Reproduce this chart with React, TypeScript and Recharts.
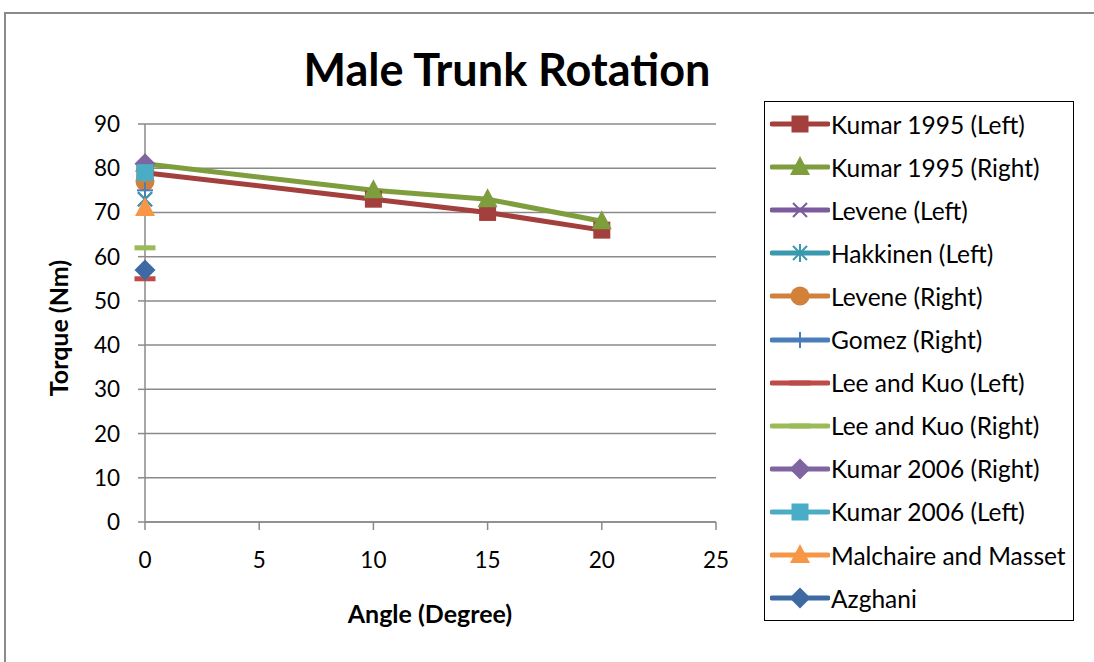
import { LineChart, Line, XAxis, YAxis, CartesianGrid, Label } from "recharts";

// angles (degrees) and torque values (Nm)
const kumarAngles = [0, 10, 15, 20];
const kumar1995Left = [79, 73, 70, 66];
const kumar1995Right = [81, 75, 73, 68];
const zeroAngle = [0];
const leveneLeft = [73];
const hakkinenLeft = [73];
const leveneRight = [77];
const gomezRight = [75];
const leeKuoLeft = [55];
const leeKuoRight = [62];
const kumar2006Right = [81];
const kumar2006Left = [79];
const malchaireMasset = [71];
const azghani = [57];

const xTicks = [0, 5, 10, 15, 20, 25];
const yTicks = [0, 10, 20, 30, 40, 50, 60, 70, 80, 90];

const FONT = "Lato, 'Open Sans', sans-serif";

type Shape = "square" | "triangle" | "x" | "asterisk" | "circle" | "plus" | "dash" | "diamond";

const series: { name: string; color: string; shape: Shape; xs: number[]; ys: number[] }[] = [
  { name: "Kumar 1995 (Left)", color: "#A33F3C", shape: "square", xs: kumarAngles, ys: kumar1995Left },
  { name: "Kumar 1995 (Right)", color: "#7E9D3D", shape: "triangle", xs: kumarAngles, ys: kumar1995Right },
  { name: "Levene (Left)", color: "#7A5C9E", shape: "x", xs: zeroAngle, ys: leveneLeft },
  { name: "Hakkinen (Left)", color: "#3A98AF", shape: "asterisk", xs: zeroAngle, ys: hakkinenLeft },
  { name: "Levene (Right)", color: "#D2803A", shape: "circle", xs: zeroAngle, ys: leveneRight },
  { name: "Gomez (Right)", color: "#4A7EBB", shape: "plus", xs: zeroAngle, ys: gomezRight },
  { name: "Lee and Kuo (Left)", color: "#BE4B48", shape: "dash", xs: zeroAngle, ys: leeKuoLeft },
  { name: "Lee and Kuo (Right)", color: "#9BBB59", shape: "dash", xs: zeroAngle, ys: leeKuoRight },
  { name: "Kumar 2006 (Right)", color: "#8064A2", shape: "diamond", xs: zeroAngle, ys: kumar2006Right },
  { name: "Kumar 2006 (Left)", color: "#4BACC6", shape: "square", xs: zeroAngle, ys: kumar2006Left },
  { name: "Malchaire and Masset", color: "#F79646", shape: "triangle", xs: zeroAngle, ys: malchaireMasset },
  { name: "Azghani", color: "#3E6AA3", shape: "diamond", xs: zeroAngle, ys: azghani },
];

const Marker = ({ shape, cx, cy, color }: { shape: Shape; cx: number; cy: number; color: string }) => {
  switch (shape) {
    case "square":
      return <rect x={cx - 8.5} y={cy - 8.5} width={17} height={17} fill={color} />;
    case "triangle":
      return <polygon points={`${cx},${cy - 11} ${cx + 10},${cy + 8} ${cx - 10},${cy + 8}`} fill={color} />;
    case "diamond":
      return <polygon points={`${cx},${cy - 10.5} ${cx + 10.5},${cy} ${cx},${cy + 10.5} ${cx - 10.5},${cy}`} fill={color} />;
    case "circle":
      return <circle cx={cx} cy={cy} r={9.5} fill={color} />;
    case "dash":
      return <rect x={cx - 10.5} y={cy - 2.5} width={21} height={5} fill={color} />;
    case "plus":
      return (
        <g stroke={color} strokeWidth={2}>
          <line x1={cx - 8} y1={cy} x2={cx + 8} y2={cy} />
          <line x1={cx} y1={cy - 8} x2={cx} y2={cy + 8} />
        </g>
      );
    case "x":
      return (
        <g stroke={color} strokeWidth={2}>
          <line x1={cx - 7} y1={cy - 7} x2={cx + 7} y2={cy + 7} />
          <line x1={cx - 7} y1={cy + 7} x2={cx + 7} y2={cy - 7} />
        </g>
      );
    case "asterisk":
      return (
        <g stroke={color} strokeWidth={2}>
          <line x1={cx - 7} y1={cy - 7} x2={cx + 7} y2={cy + 7} />
          <line x1={cx - 7} y1={cy + 7} x2={cx + 7} y2={cy - 7} />
          <line x1={cx} y1={cy - 9} x2={cx} y2={cy + 9} />
        </g>
      );
  }
  return null;
};

const Legend = () => (
  <div
    style={{
      position: "absolute",
      left: 764,
      top: 101,
      width: 308,
      height: 518,
      border: "1px solid #000",
      background: "#fff",
      fontFamily: FONT,
      fontSize: 24.5,
    }}
  >
    {series.map((s, i) => (
      <div key={s.name} style={{ position: "absolute", left: 5, top: 7 + i * 43.1, height: 30, display: "flex", alignItems: "center", whiteSpace: "nowrap" }}>
        <svg width={60} height={30}>
          <line x1={2} y1={15} x2={58} y2={15} stroke={s.color} strokeWidth={5} strokeLinecap="round" />
          <Marker shape={s.shape} cx={30} cy={15} color={s.color} />
        </svg>
        <span style={{ marginLeft: 1 }}>{s.name}</span>
      </div>
    ))}
  </div>
);

export default function App() {
  return (
    <div style={{ position: "absolute", left: 0, top: 0, width: 1094, height: 662, overflow: "hidden", background: "#fff" }}>
      <div style={{ position: "absolute", left: 4, top: 12, width: 1200, height: 800, border: "2px solid #8a8a8a" }} />
      <div
        style={{
          position: "absolute",
          left: 0,
          width: 1014,
          top: 44,
          textAlign: "center",
          fontFamily: FONT,
          fontWeight: 700,
          fontSize: 45,
          lineHeight: "50px",
        }}
      >
        Male Trunk Rotation
      </div>
      <div style={{ position: "absolute", left: 0, top: 0 }}>
        <LineChart width={1094} height={662} margin={{ top: 124, right: 378, bottom: 0, left: 0 }}>
          <CartesianGrid vertical={false} stroke="#8a8a8a" strokeWidth={1.5} />
          <XAxis
            dataKey="angle"
            type="number"
            domain={[0, 25]}
            ticks={xTicks}
            allowDuplicatedCategory={false}
            height={140}
            stroke="#8a8a8a"
            strokeWidth={1.5}
            tickSize={8}
            tickMargin={22}
            tick={{ fontSize: 22.5, fill: "#000", fontFamily: FONT }}
          >
            <Label
              content={() => (
                <text x={430} y={617} textAnchor="middle" dominantBaseline="middle" fontFamily={FONT} fontWeight={700} fontSize={25}>
                  Angle (Degree)
                </text>
              )}
            />
          </XAxis>
          <YAxis
            type="number"
            domain={[0, 90]}
            ticks={yTicks}
            width={145}
            stroke="#8a8a8a"
            strokeWidth={1.5}
            tickSize={7}
            tickMargin={18}
            tick={{ fontSize: 22.5, fill: "#000", fontFamily: FONT }}
          >
            <Label
              content={() => (
                <text
                  x={62}
                  y={328}
                  transform="rotate(-90 62 328)"
                  textAnchor="middle"
                  dominantBaseline="middle"
                  fontFamily={FONT}
                  fontWeight={700}
                  fontSize={25}
                >
                  Torque (Nm)
                </text>
              )}
            />
          </YAxis>
          {series.map((s) => (
            <Line
              key={s.name}
              name={s.name}
              data={s.xs.map((x, i) => ({ angle: x, torque: s.ys[i] }))}
              dataKey="torque"
              type="linear"
              stroke={s.color}
              strokeWidth={5}
              activeDot={false}
              isAnimationActive={false}
              dot={(p: any) => <Marker key={`${s.name}-${p.index}`} shape={s.shape} cx={p.cx} cy={p.cy} color={s.color} />}
            />
          ))}
        </LineChart>
      </div>
      <Legend />
    </div>
  );
}
